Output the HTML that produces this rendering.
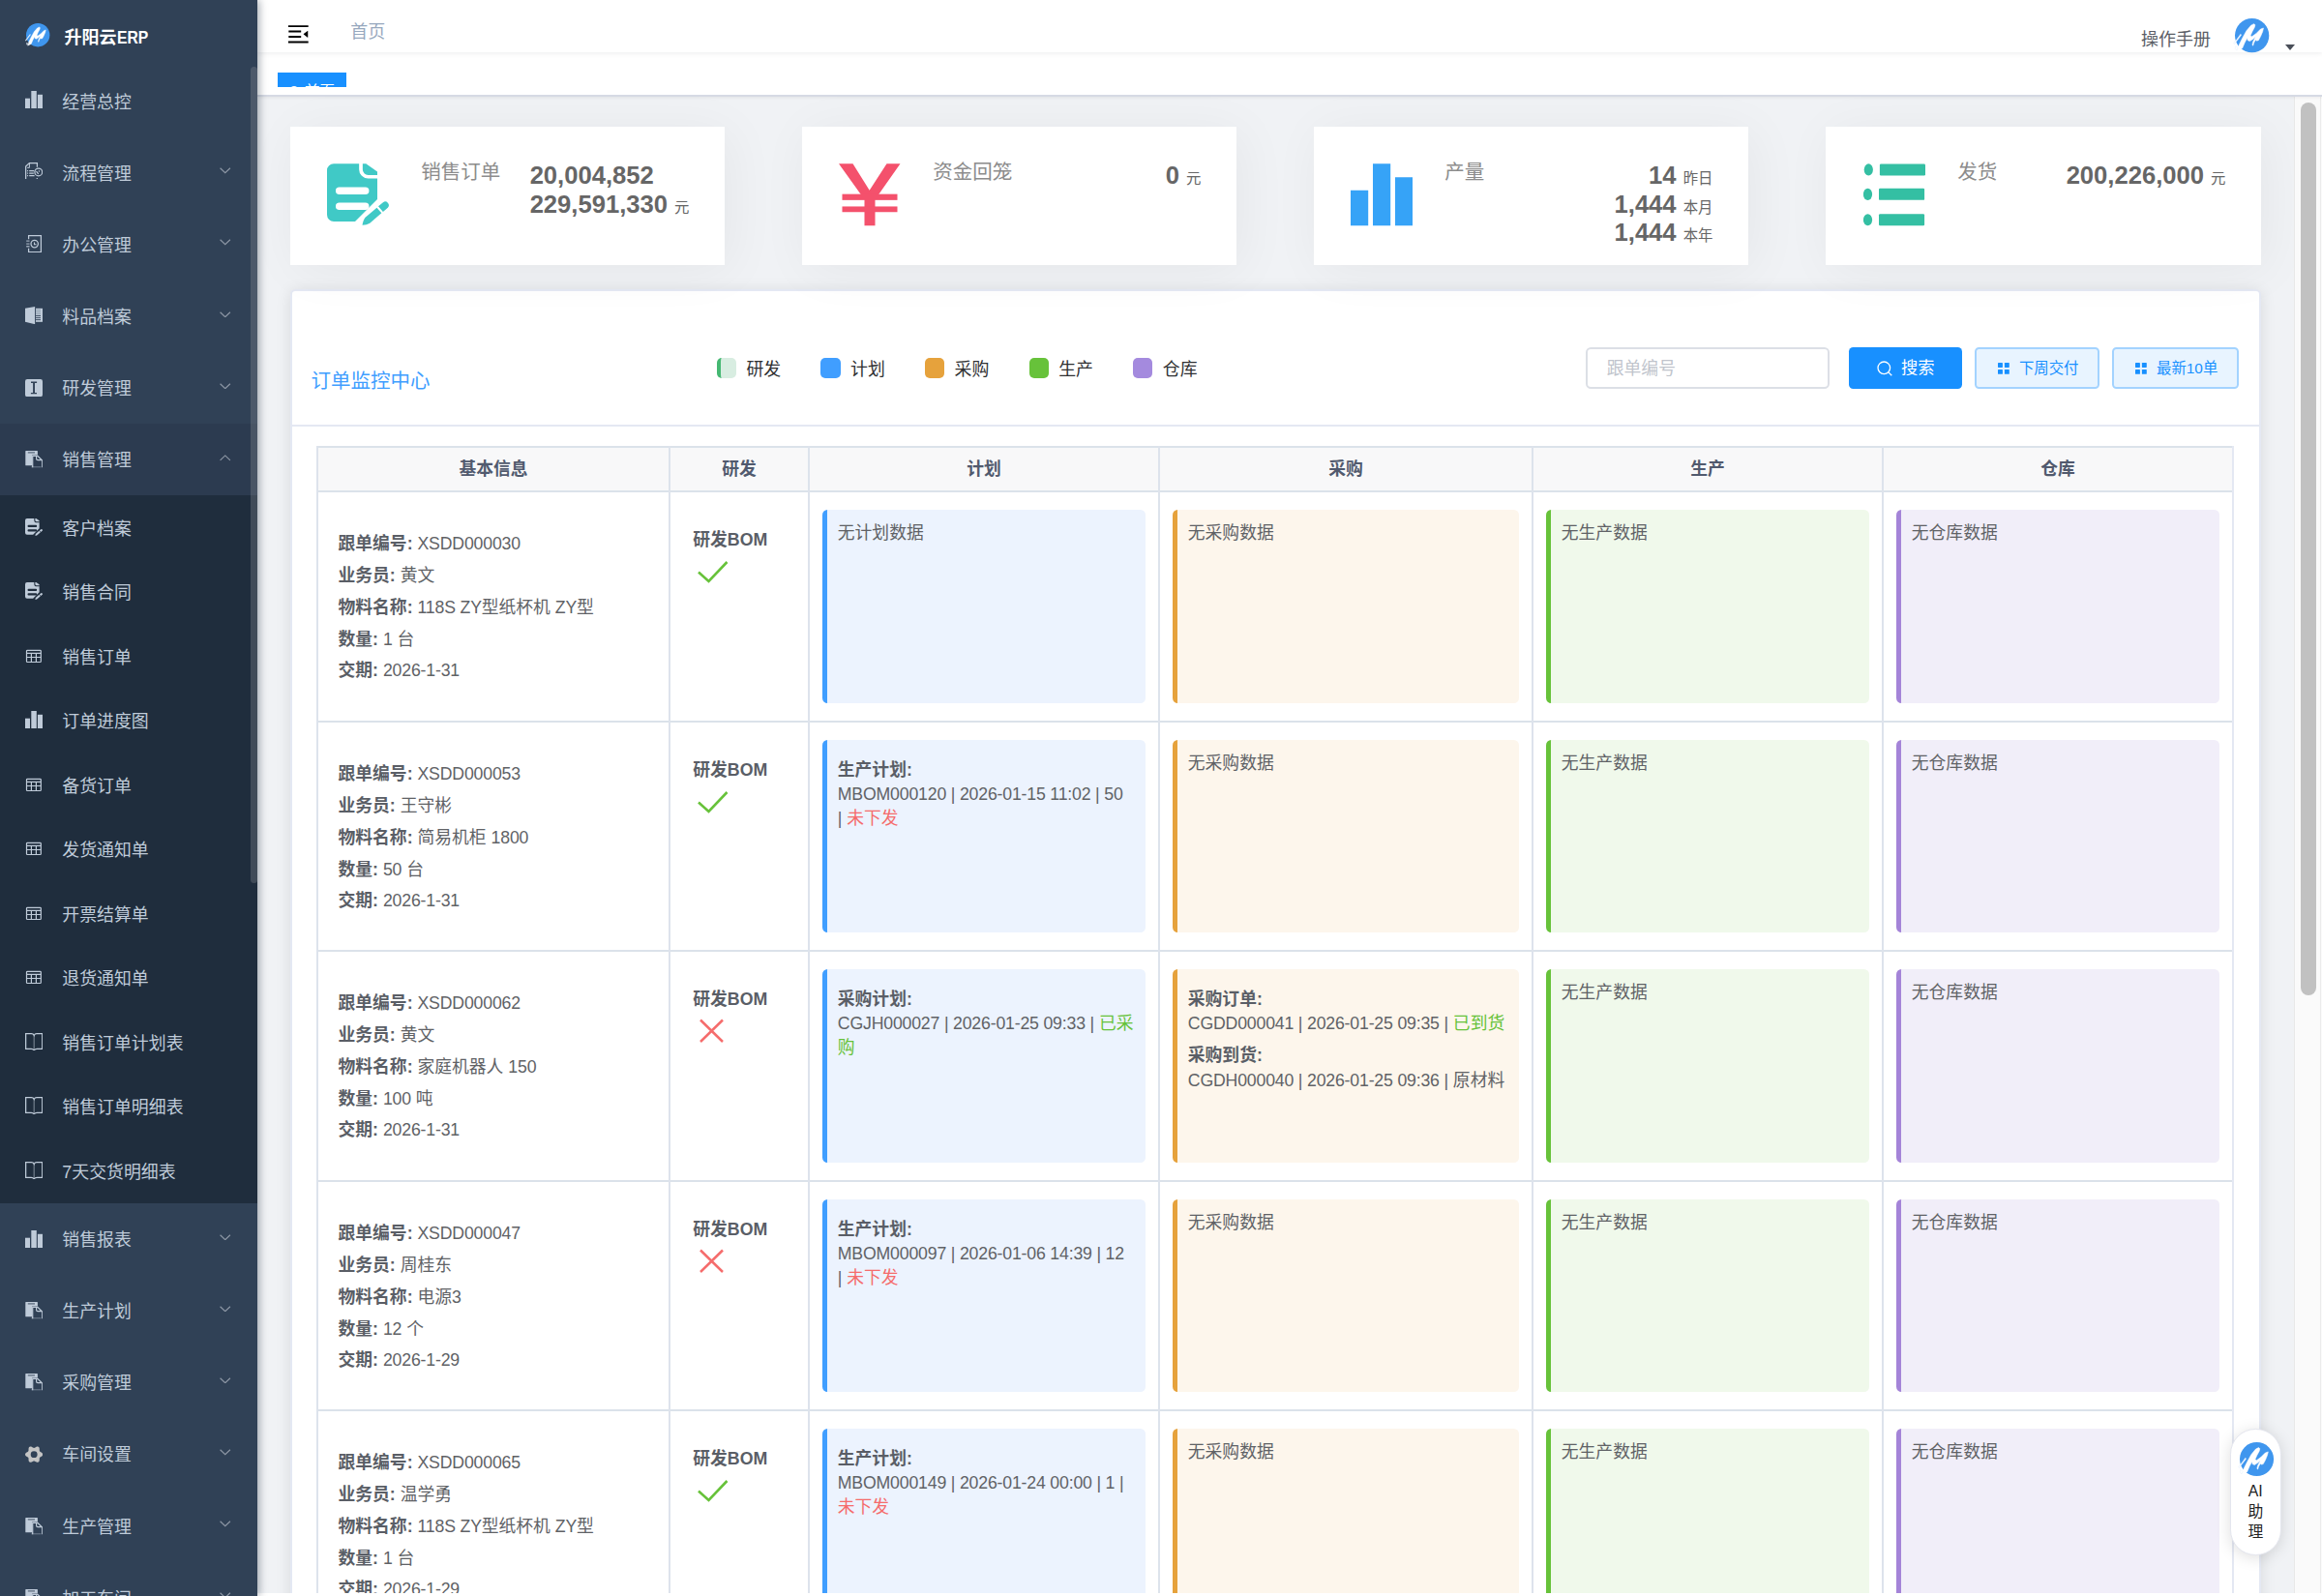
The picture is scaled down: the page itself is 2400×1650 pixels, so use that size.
<!DOCTYPE html>
<html lang="zh-CN">
<head>
<meta charset="utf-8">
<title>升阳云ERP</title>
<style>
*{box-sizing:border-box;margin:0;padding:0}
html,body{width:2400px;height:1650px;overflow:hidden;background:#fff}
body{font-family:"Liberation Sans","Noto Sans CJK SC",sans-serif;position:relative;color:#606266;font-size:18px}
b{font-weight:bold}
i{font-style:normal}
/* sidebar */
.sidebar{position:absolute;left:0;top:0;width:266px;height:1650px;background:#304156;overflow:hidden;z-index:30;box-shadow:2px 0 8px rgba(0,21,41,.35)}
.sidebar{overflow:visible}
.subbg{position:absolute;left:0;width:266px;background:#1f2d3d}
.actbg{position:absolute;left:0;width:266px;background:#2c3b50}
.logo{position:absolute;left:0;top:0;width:266px;height:67px}
.lg{position:absolute;left:26.900px;top:24.100px;width:24.400px;height:24.400px}
.lt{position:absolute;left:66.5px;top:24.800px;line-height:27px;font-size:18px;font-weight:bold;color:#fff;white-space:nowrap}
.erp{display:inline-block;font-size:18.500px;transform:scaleX(.85);transform-origin:0 50%;margin-left:0.500px}
.mi{position:absolute;left:0;width:266px;height:74.15px;line-height:74.15px;font-size:17.900px;color:#bfcbd9;white-space:nowrap;overflow:hidden}
.mi.sub{height:66.5px;line-height:66.5px}
.mi .ic{position:absolute;left:26px;top:26.900px;width:18px;height:18px}
.mi.sub .ic{top:23.800px}
.mi span{position:absolute;left:64.3px;top:1.500px}
.mi .ar{position:absolute;left:227px;top:32px;width:11.500px;height:6.700px}
.sthumb{position:absolute;left:259px;top:69px;width:7px;height:844px;border-radius:3.500px;background:rgba(144,147,153,.3)}
/* navbar */
.navbar{position:absolute;left:266px;top:0;width:2134px;height:54px;background:#fff;box-shadow:0 1.300px 5.300px rgba(0,21,41,.08);z-index:20}
.hamb{position:absolute;left:29.400px;top:21.700px;width:26.600px;height:26.600px;fill:#000}
.crumb{position:absolute;left:96.300px;top:20.400px;line-height:26px;font-size:18px;color:#97a8be}
.manual{position:absolute;left:1947px;top:27.500px;line-height:26px;font-size:18px;color:#5a5e66}
.av{position:absolute;left:2044px;top:19px;width:35.300px;height:35.300px}
.caret{position:absolute;left:2095.600px;top:46px;width:0;height:0;border-left:5px solid transparent;border-right:5px solid transparent;border-top:6.500px solid #4a4f59}
/* tags */
.tags{position:absolute;left:266px;top:54px;width:2134px;height:46px;background:#fff;border-bottom:2px solid #d6dae4;box-shadow:0 1.300px 4px rgba(0,0,0,.05),0 0 4px rgba(0,0,0,.03);z-index:10}
.tag{position:absolute;left:21px;top:21px;width:71px;height:14.800px;background:#1890ff;overflow:hidden;color:#fff;font-size:15.400px}
.tag .dot{position:absolute;left:12px;top:14px;width:10px;height:10px;border-radius:50%;background:#fff}
.tag span{position:absolute;left:28px;top:9.700px;line-height:20px}
/* content */
.content{position:absolute;left:266px;top:99px;width:2134px;height:1551px;background:#f0f2f5}
.card{position:absolute;top:131px;width:449px;height:143px;background:#fff;box-shadow:5.300px 5.300px 53px rgba(0,0,0,.05);z-index:2}
.cic{position:absolute;left:38px;top:38px;width:64px;height:64.500px}
.clab{position:absolute;left:135.300px;top:33px;line-height:28px;font-size:20.500px;color:#8c8c8c;white-space:nowrap}
.cnum{position:absolute;right:36.500px;top:35.800px;text-align:right;font-size:25.600px;font-weight:bold;color:#666;line-height:29.800px;white-space:nowrap}
.cnum.la{text-align:left}
.cnum i{font-size:15.400px;font-weight:normal;line-height:0}
/* panel */
.panel{position:absolute;left:300px;top:299px;width:2037px;height:1400px;background:#fff;border:2px solid #e4e8f3;border-radius:5.300px;box-shadow:0 2.670px 16px rgba(0,0,0,.1);z-index:1}
.pc{position:absolute;left:0;top:0;width:2400px;height:1650px;z-index:2}
.ptitle{position:absolute;left:321.500px;top:380.300px;line-height:28px;font-size:20.500px;color:#409eff;white-space:nowrap}
.sw{position:absolute;top:370px;width:20.300px;height:21px;border-radius:5px}
.l0{background:#d8ede1;border-left:4.600px solid #45b872}
.l1{background:#409eff}.l2{background:#e6a23c}.l3{background:#67c23a}.l4{background:#a48ade}
.lgt{position:absolute;top:368.600px;line-height:26px;font-size:17.900px;color:#303133;white-space:nowrap}
.inp{position:absolute;left:1639px;top:359.300px;width:252px;height:42.500px;border:2px solid #dcdfe6;border-radius:5.300px;padding-left:19.800px;line-height:40.500px;font-size:17.800px;color:#c0c4cc}
.btn{position:absolute;top:359.300px;height:42.500px;border-radius:4.500px;white-space:nowrap}
.b1{left:1911px;width:117px;background:#1890ff;color:#fff;font-size:17.300px}
.b1 .sic{position:absolute;left:29px;top:13.700px;width:16px;height:16px}
.b1 span{position:absolute;left:54px;top:1px;line-height:41px}
.b2,.b3{background:#e8f4ff;border:2px solid #a3d3ff;color:#1890ff;font-size:15.400px}
.b2{left:2041.300px;width:128.400px}
.b3{left:2183.400px;width:130.300px}
.gic{position:absolute;left:21.800px;top:13.800px;width:11.800px;height:11.800px}
.btn.b2 span,.btn.b3 span{position:absolute;left:43.600px;top:-1px;line-height:41px}
.phl{position:absolute;left:302px;top:439px;width:2033px;height:2px;background:#e4e8f3}
/* table */
.tbl{position:absolute;left:0;top:0;width:2400px;height:1650px;z-index:3;overflow:hidden}
.l{font-size:17.700px;line-height:0;letter-spacing:-0.180px}
.thbg{position:absolute;background:#f8f8f9}
.th{position:absolute;top:472.200px;line-height:27px;font-size:17.800px;font-weight:bold;color:#515a6e;text-align:center}
.vl{position:absolute;top:461px;width:2px;height:1200px;background:#dde3ec}
.vl.last{background:#e4e8f3}
.hl{position:absolute;left:327px;width:1981px;height:2px;background:#dbe2ea}
.info{position:absolute;left:349.500px;font-size:17.800px;line-height:32.750px;color:#606266;white-space:nowrap}
.info b{color:#5a5e66}
.bom{position:absolute;left:716.300px;line-height:28px;font-size:17.800px;font-weight:bold;color:#5a5e66;white-space:nowrap}
.mk{position:absolute;left:721px;width:32px;height:24px;overflow:visible}
.cc{position:absolute;border-radius:5.300px;border-left:5px solid;padding:0 10.800px;font-size:17.800px;line-height:24.200px;color:#606266;white-space:nowrap;overflow:hidden}
.c1{left:850px;width:334px;background:#ecf3fe;border-color:#409eff}
.c2{left:1212px;width:358px;background:#fdf6ec;border-color:#e6a23c}
.c3{left:1598px;width:334px;background:#f0f9eb;border-color:#67c23a}
.c4{left:1960px;width:334px;background:#f1eef9;border-color:#a484d8}
.nd{margin-top:11.500px}
.bk{margin-top:18.700px}
.bk+.bk{margin-top:8.600px}
.bt{font-weight:bold;color:#5a5e66;margin-bottom:1.500px}
.r{color:#f56c6c;font-weight:normal}
.g{color:#67c23a;font-weight:normal}
/* scrollbar */
.strack{position:absolute;left:2371px;top:99.500px;width:29px;height:1551px;background:#fafafa;border-left:1.300px solid #e8e8e8;z-index:5}
.strack:after{content:"";position:absolute;left:25.700px;top:0;width:1.300px;height:100%;background:#ebebeb}
.sth{position:absolute;left:5.700px;top:6.500px;width:16px;height:923px;border-radius:8px;background:#c1c1c1}
/* AI */
.ai{position:absolute;left:2305.300px;top:1476.800px;width:52.400px;height:131.300px;border-radius:26.200px;background:#fff;border:1.800px solid #e4e6ee;box-shadow:0 2.600px 16px rgba(0,0,0,.13);z-index:8}
.aiav{position:absolute;left:8.950px;top:13.200px;width:35.100px;height:35.100px}
.ait{position:absolute;left:0;top:53px;width:50px;text-align:center;font-size:15.800px;line-height:21.300px;color:#222}
.bstrip{position:absolute;left:266px;top:1646.500px;width:2134px;height:4px;background:#fff;z-index:9}

</style>
</head>
<body>
<div class="content"></div>
<div class="tags"><div class="tag"><i class="dot"></i><span>首页</span></div></div>
<div class="navbar">
  <svg class="hamb" viewBox="0 0 1024 1024"><g transform="rotate(180 512 512)"><path d="M408 442h480c4.400 0 8-3.600 8-8v-56c0-4.400-3.600-8-8-8H408c-4.400 0-8 3.600-8 8v56c0 4.400 3.600 8 8 8zm-8 204c0 4.400 3.600 8 8 8h480c4.400 0 8-3.600 8-8v-56c0-4.400-3.600-8-8-8H408c-4.400 0-8 3.600-8 8v56zm504-486H120c-4.400 0-8 3.600-8 8v56c0 4.400 3.600 8 8 8h784c4.400 0 8-3.600 8-8v-56c0-4.400-3.600-8-8-8zm0 632H120c-4.400 0-8 3.600-8 8v56c0 4.400 3.600 8 8 8h784c4.400 0 8-3.600 8-8v-56c0-4.400-3.600-8-8-8zM142.400 642.100L298.700 519a8.840 8.840 0 0 0 0-13.900L142.400 381.900c-5.800-4.600-14.400-.5-14.400 6.900v246.300a8.900 8.900 0 0 0 14.400 7z"/></g></svg>
  <div class="crumb">首页</div>
  <div class="manual">操作手册</div>
  <svg class="av" viewBox="0 0 100 100" style="overflow:visible"><circle cx="50" cy="50" r="50" fill="#3f96ee"/><path d="M7.0 95.1L11.9 77.9L21.6 58.3L33.8 36.2L47.1 20.2L55.6 16.0L59.3 19.0L57.5 26.4L50.8 38.7L45.3 50.9L49.6 53.4L62.9 43.6L75.1 31.3L83.6 28.2L81.2 38.7L75.1 53.4L69.0 64.4L64.2 65.6L60.5 63.2L55.6 71.8L53.2 79.8L50.8 77.9L53.2 68.1L60.5 53.4L53.2 60.7L43.5 66.9L37.4 64.4L36.2 57.1L28.9 70.6L21.6 87.7L16.8 90.2z" fill="#fff" stroke="#fff" stroke-width="1.500" stroke-linejoin="round"/><path d="M16.800 44.800L-3.900 73l3 2.500L19.500 49z" fill="#fff" fill-opacity=".9" stroke="#4096ee" stroke-opacity=".25" stroke-width="1"/><path d="M2 81l7 5-3.500 8-5-5z" fill="#fff" fill-opacity=".7" stroke="#4096ee" stroke-opacity=".2" stroke-width="1"/></svg>
  <div class="caret"></div>
</div>
<div class="card" style="left:300px"><svg class="cic" viewBox="0 0 64 64"><path d="M7 0h33.300l11.700 8.300v28.500L29 59.700H7a7 7 0 0 1-7-7V7a7 7 0 0 1 7-7z" fill="#40c9c6"/><path d="M35 -1v7a7.500 7.500 0 0 0 7.500 7.500H53" fill="none" stroke="#fff" stroke-width="3.700"/><path d="M12.700 28.100h27M12.700 44h27" stroke="#fff" stroke-width="7.500" stroke-linecap="round"/><path d="M36.500 63.400c0.500-3 1.400-5.400 2.850-7.600L51.450 45.400l4.900 5.600-12.100 10.400c-2.300 1.300-4.700 1.900-7.750 2z" fill="#40c9c6"/><path d="M53 44.100l4.950-4.200a3.750 3.750 0 0 1 4.900 5.600L57.900 49.700z" fill="#40c9c6"/></svg><div class="clab">销售订单</div><div class="cnum la"><div>20,004,852</div><div>229,591,330 <i>元</i></div></div></div>
<div class="card" style="left:829px"><svg class="cic" viewBox="0 0 64 64"><path d="M0 0h14.500L31.700 27.500 49.500 0H63.500L37.500 37v27H26.500V37z" fill="#f4516c"/><rect x="3.500" y="31.400" width="57" height="6.200" fill="#f4516c"/><rect x="3.500" y="44.200" width="57" height="5.800" fill="#f4516c"/></svg><div class="clab">资金回笼</div><div class="cnum"><div>0 <i>元</i></div></div></div>
<div class="card" style="left:1358px"><svg class="cic" viewBox="0 0 64 64"><rect x="0" y="27.500" width="18.200" height="36.500" fill="#36a3f7"/><rect x="23" y="0" width="18.200" height="64" fill="#36a3f7"/><rect x="46" y="14" width="18" height="50" fill="#36a3f7"/></svg><div class="clab">产量</div><div class="cnum"><div>14 <i>昨日</i></div><div>1,444 <i>本月</i></div><div>1,444 <i>本年</i></div></div></div>
<div class="card" style="left:1887px;width:450px;border-left:1px solid #fff"><svg class="cic" viewBox="0 0 64 64" fill="#34bfa3"><ellipse cx="5.300" cy="6.200" rx="4.600" ry="6.100"/><rect x="16.900" y="0.200" width="47.100" height="12" rx="1.200"/><ellipse cx="4.500" cy="31.600" rx="4.600" ry="6.100"/><rect x="16" y="25.600" width="47.100" height="12" rx="1.200"/><ellipse cx="4.500" cy="58" rx="4.600" ry="6.100"/><rect x="16" y="52" width="47.100" height="12" rx="1.200"/></svg><div class="clab">发货</div><div class="cnum"><div>200,226,000 <i>元</i></div></div></div>
<div class="panel"></div>
<div class="pc">
  <div class="ptitle">订单监控中心</div>
  <div class="sw l0" style="left:740.8px"></div><div class="lgt" style="left:771.4px">研发</div>
  <div class="sw l1" style="left:848.4px"></div><div class="lgt" style="left:879.0px">计划</div>
  <div class="sw l2" style="left:956.0px"></div><div class="lgt" style="left:986.6px">采购</div>
  <div class="sw l3" style="left:1063.6px"></div><div class="lgt" style="left:1094.2px">生产</div>
  <div class="sw l4" style="left:1171.2px"></div><div class="lgt" style="left:1201.8px">仓库</div>
  <div class="inp">跟单编号</div>
  <div class="btn b1"><svg class="sic" viewBox="0 0 16 16" fill="none" stroke="#fff" stroke-width="1.300"><circle cx="7.300" cy="7.300" r="6.300"/><path d="M11.900 11.900L15.300 15.300"/></svg><span>搜索</span></div>
  <div class="btn b2"><svg class="gic" viewBox="0 0 12 12" fill="#1890ff"><rect x="0" y="0" width="5" height="5" rx=".6"/><rect x="7" y="0" width="5" height="5" rx=".6"/><rect x="0" y="7" width="5" height="5" rx=".6"/><rect x="7" y="7" width="5" height="5" rx=".6"/></svg><span>下周交付</span></div>
  <div class="btn b3"><svg class="gic" viewBox="0 0 12 12" fill="#1890ff"><rect x="0" y="0" width="5" height="5" rx=".6"/><rect x="7" y="0" width="5" height="5" rx=".6"/><rect x="0" y="7" width="5" height="5" rx=".6"/><rect x="7" y="7" width="5" height="5" rx=".6"/></svg><span>最新10单</span></div>
  <div class="phl"></div>
</div>
<div class="tbl">
<div class="thbg" style="left:328px;top:462px;width:1980px;height:46px"></div>
<div class="th" style="left:328.0px;width:364.0px">基本信息</div>
<div class="th" style="left:692.0px;width:144.0px">研发</div>
<div class="th" style="left:836.0px;width:362.0px">计划</div>
<div class="th" style="left:1198.0px;width:386.0px">采购</div>
<div class="th" style="left:1584.0px;width:362.0px">生产</div>
<div class="th" style="left:1946.0px;width:362.0px">仓库</div>
<div class="hl" style="top:461px"></div>
<div class="hl" style="top:507px"></div>
<div class="hl" style="top:745px"></div>
<div class="hl" style="top:982px"></div>
<div class="hl" style="top:1220px"></div>
<div class="hl" style="top:1457px"></div>
<div class="vl" style="left:327px"></div>
<div class="vl" style="left:691px"></div>
<div class="vl" style="left:835px"></div>
<div class="vl" style="left:1197px"></div>
<div class="vl" style="left:1583px"></div>
<div class="vl" style="left:1945px"></div>
<div class="vl last" style="left:2307px"></div>
<div class="info" style="top:546.4px"><div><b>跟单编号:</b> <span class="l">XSDD000030</span></div><div><b>业务员:</b> 黄文</div><div><b>物料名称:</b> <span class="l">118S ZY</span>型纸杯机 <span class="l">ZY</span>型</div><div><b>数量:</b> <span class="l">1</span> 台</div><div><b>交期:</b> <span class="l">2026-1-31</span></div></div>
<div class="bom" style="top:544.4px">研发BOM</div>
<svg class="mk" style="top:578.5px" viewBox="0 0 32 24" fill="none" stroke="#67c23a" stroke-width="2.600"><path d="M1 12.500L11.500 22 30.500 2"/></svg>
<div class="cc c1" style="top:527px;height:200px"><div class="nd">无计划数据</div></div>
<div class="cc c2" style="top:527px;height:200px"><div class="nd">无采购数据</div></div>
<div class="cc c3" style="top:527px;height:200px"><div class="nd">无生产数据</div></div>
<div class="cc c4" style="top:527px;height:200px"><div class="nd">无仓库数据</div></div>
<div class="info" style="top:784.4px"><div><b>跟单编号:</b> <span class="l">XSDD000053</span></div><div><b>业务员:</b> 王守彬</div><div><b>物料名称:</b> 简易机柜 <span class="l">1800</span></div><div><b>数量:</b> <span class="l">50</span> 台</div><div><b>交期:</b> <span class="l">2026-1-31</span></div></div>
<div class="bom" style="top:782.4px">研发BOM</div>
<svg class="mk" style="top:816.5px" viewBox="0 0 32 24" fill="none" stroke="#67c23a" stroke-width="2.600"><path d="M1 12.500L11.500 22 30.500 2"/></svg>
<div class="cc c1" style="top:765px;height:199px"><div class="bk"><div class="bt">生产计划:</div><div class="bl"><span class="l">MBOM000120 | 2026-01-15 11:02 | 50</span><br><span class="l">|</span> <b class="r">未下发</b></div></div></div>
<div class="cc c2" style="top:765px;height:199px"><div class="nd">无采购数据</div></div>
<div class="cc c3" style="top:765px;height:199px"><div class="nd">无生产数据</div></div>
<div class="cc c4" style="top:765px;height:199px"><div class="nd">无仓库数据</div></div>
<div class="info" style="top:1021.4px"><div><b>跟单编号:</b> <span class="l">XSDD000062</span></div><div><b>业务员:</b> 黄文</div><div><b>物料名称:</b> 家庭机器人 <span class="l">150</span></div><div><b>数量:</b> <span class="l">100</span> 吨</div><div><b>交期:</b> <span class="l">2026-1-31</span></div></div>
<div class="bom" style="top:1019.4px">研发BOM</div>
<svg class="mk" style="top:1053.5px" viewBox="0 0 32 24" fill="none" stroke="#f56c6c" stroke-width="2.500"><path d="M3 0.500L26 23M26 0.500L3 23"/></svg>
<div class="cc c1" style="top:1002px;height:200px"><div class="bk"><div class="bt">采购计划:</div><div class="bl"><span class="l">CGJH000027 | 2026-01-25 09:33 |</span> <b class="g">已采<br>购</b></div></div></div>
<div class="cc c2" style="top:1002px;height:200px"><div class="bk"><div class="bt">采购订单:</div><div class="bl"><span class="l">CGDD000041 | 2026-01-25 09:35 |</span> <b class="g">已到货</b></div></div><div class="bk"><div class="bt">采购到货:</div><div class="bl"><span class="l">CGDH000040 | 2026-01-25 09:36 |</span> 原材料</div></div></div>
<div class="cc c3" style="top:1002px;height:200px"><div class="nd">无生产数据</div></div>
<div class="cc c4" style="top:1002px;height:200px"><div class="nd">无仓库数据</div></div>
<div class="info" style="top:1259.4px"><div><b>跟单编号:</b> <span class="l">XSDD000047</span></div><div><b>业务员:</b> 周桂东</div><div><b>物料名称:</b> 电源<span class="l">3</span></div><div><b>数量:</b> <span class="l">12</span> 个</div><div><b>交期:</b> <span class="l">2026-1-29</span></div></div>
<div class="bom" style="top:1257.4px">研发BOM</div>
<svg class="mk" style="top:1291.5px" viewBox="0 0 32 24" fill="none" stroke="#f56c6c" stroke-width="2.500"><path d="M3 0.500L26 23M26 0.500L3 23"/></svg>
<div class="cc c1" style="top:1240px;height:199px"><div class="bk"><div class="bt">生产计划:</div><div class="bl"><span class="l">MBOM000097 | 2026-01-06 14:39 | 12</span><br><span class="l">|</span> <b class="r">未下发</b></div></div></div>
<div class="cc c2" style="top:1240px;height:199px"><div class="nd">无采购数据</div></div>
<div class="cc c3" style="top:1240px;height:199px"><div class="nd">无生产数据</div></div>
<div class="cc c4" style="top:1240px;height:199px"><div class="nd">无仓库数据</div></div>
<div class="info" style="top:1496.4px"><div><b>跟单编号:</b> <span class="l">XSDD000065</span></div><div><b>业务员:</b> 温学勇</div><div><b>物料名称:</b> <span class="l">118S ZY</span>型纸杯机 <span class="l">ZY</span>型</div><div><b>数量:</b> <span class="l">1</span> 台</div><div><b>交期:</b> <span class="l">2026-1-29</span></div></div>
<div class="bom" style="top:1494.4px">研发BOM</div>
<svg class="mk" style="top:1528.5px" viewBox="0 0 32 24" fill="none" stroke="#67c23a" stroke-width="2.600"><path d="M1 12.500L11.500 22 30.500 2"/></svg>
<div class="cc c1" style="top:1477px;height:200px"><div class="bk"><div class="bt">生产计划:</div><div class="bl"><span class="l">MBOM000149 | 2026-01-24 00:00 | 1 |</span><br><b class="r">未下发</b></div></div></div>
<div class="cc c2" style="top:1477px;height:200px"><div class="nd">无采购数据</div></div>
<div class="cc c3" style="top:1477px;height:200px"><div class="nd">无生产数据</div></div>
<div class="cc c4" style="top:1477px;height:200px"><div class="nd">无仓库数据</div></div>
</div>
<div class="strack"><div class="sth"></div></div>
<div class="ai"><svg class="aiav" viewBox="0 0 100 100" style="overflow:visible"><circle cx="50" cy="50" r="50" fill="#3f96ee"/><path d="M7.0 95.1L11.9 77.9L21.6 58.3L33.8 36.2L47.1 20.2L55.6 16.0L59.3 19.0L57.5 26.4L50.8 38.7L45.3 50.9L49.6 53.4L62.9 43.6L75.1 31.3L83.6 28.2L81.2 38.7L75.1 53.4L69.0 64.4L64.2 65.6L60.5 63.2L55.6 71.8L53.2 79.8L50.8 77.9L53.2 68.1L60.5 53.4L53.2 60.7L43.5 66.9L37.4 64.4L36.2 57.1L28.9 70.6L21.6 87.7L16.8 90.2z" fill="#fff" stroke="#fff" stroke-width="1.500" stroke-linejoin="round"/><path d="M16.800 44.800L-3.900 73l3 2.500L19.500 49z" fill="#fff" fill-opacity=".9" stroke="#4096ee" stroke-opacity=".25" stroke-width="1"/><path d="M2 81l7 5-3.500 8-5-5z" fill="#fff" fill-opacity=".7" stroke="#4096ee" stroke-opacity=".2" stroke-width="1"/></svg><div class="ait">AI<br>助<br>理</div></div>
<div class="bstrip"></div>

<div class="sidebar">
  <div class="subbg" style="top:512.00px;height:731.50px"></div>
  <div class="actbg" style="top:437.85px;height:74.15px"></div>
  <div class="logo"><svg class="lg" viewBox="0 0 100 100" style="overflow:visible"><circle cx="50" cy="50" r="50" fill="#3f96ee"/><path d="M7.0 95.1L11.9 77.9L21.6 58.3L33.8 36.2L47.1 20.2L55.6 16.0L59.3 19.0L57.5 26.4L50.8 38.7L45.3 50.9L49.6 53.4L62.9 43.6L75.1 31.3L83.6 28.2L81.2 38.7L75.1 53.4L69.0 64.4L64.2 65.6L60.5 63.2L55.6 71.8L53.2 79.8L50.8 77.9L53.2 68.1L60.5 53.4L53.2 60.7L43.5 66.9L37.4 64.4L36.2 57.1L28.9 70.6L21.6 87.7L16.8 90.2z" fill="#fff" stroke="#fff" stroke-width="1.500" stroke-linejoin="round"/><path d="M16.800 44.800L-3.900 73l3 2.500L19.500 49z" fill="#fff" fill-opacity=".9" stroke="#4096ee" stroke-opacity=".25" stroke-width="1"/><path d="M2 81l7 5-3.500 8-5-5z" fill="#fff" fill-opacity=".7" stroke="#4096ee" stroke-opacity=".2" stroke-width="1"/></svg><span class="lt">升阳云<span class="erp">ERP</span></span></div>
  <div class="mi" style="top:67.10px"><svg class="ic" style="top:26.90px" viewBox="0 0 18 18" fill="#bfcbd9"><rect x="0" y="7.7" width="5" height="10.4"/><rect x="6.3" y="0" width="5.5" height="18.1"/><rect x="12.9" y="3.8" width="5.1" height="14.3"/></svg><span>经营总控</span></div>
  <div class="mi" style="top:141.25px"><svg class="ic" style="top:27.13px" viewBox="0 0 18 18" fill="none" stroke="#bfcbd9" stroke-width="1.25"><path d="M0.65 17.1V4.1L4.4 0.65h8v4"/><path d="M4.4 0.65v4.7H2.2" stroke-width="1"/><path d="M4.2 8.6h5M4.2 11h4.6M4.2 13.6h5.4"/><path d="M2.1 8.6h1M2.1 11h1M2.1 13.6h1"/><circle cx="13.8" cy="9.9" r="3.9"/><path d="M11.5 9.2l2.2 2.7M14.3 8.4l0.3 1.3M12.3 16.1v0.8"/></svg><span>流程管理</span><svg class="ar" viewBox="0 0 12 7" fill="none" stroke="#8e98a6" stroke-width="1.2"><path d="M0.6 0.8L6 6l5.4-5.2"/></svg></div>
  <div class="mi" style="top:215.40px"><svg class="ic" style="top:27.36px" viewBox="0 0 18 18" fill="none" stroke="#bfcbd9" stroke-width="1.25"><path d="M3.6 4.2V0.65h12.8v17H3.6v-4"/><circle cx="9.7" cy="9.1" r="3.7"/><path d="M9.5 7.5v2.2h2" stroke-width="1.1"/><path d="M1.2 6.1h3.3M1.2 9.1h3.3M1.2 11.7h3.3" stroke-opacity=".75" stroke-width="1.4"/></svg><span>办公管理</span><svg class="ar" viewBox="0 0 12 7" fill="none" stroke="#8e98a6" stroke-width="1.2"><path d="M0.6 0.8L6 6l5.4-5.2"/></svg></div>
  <div class="mi" style="top:289.55px"><svg class="ic" style="top:27.59px" viewBox="0 0 18 18"><path d="M0 1.800L10.1 0v18.200L0 15.800z" fill="#bfcbd9"/><path d="M11 1.800h7v14h-7z" fill="#bfcbd9"/><path d="M11 9.500h5M11 11.600h5M11 13.600h5" stroke="#304156" stroke-width="0.9"/><path d="M11 3.600h5M11 5.600h5M11 7.600h5" stroke="#304156" stroke-width="0.8" stroke-opacity=".4"/></svg><span>料品档案</span><svg class="ar" viewBox="0 0 12 7" fill="none" stroke="#8e98a6" stroke-width="1.2"><path d="M0.6 0.8L6 6l5.4-5.2"/></svg></div>
  <div class="mi" style="top:363.70px"><svg class="ic" style="top:27.82px" viewBox="0 0 18 18"><rect x="0" y="0" width="18" height="18.100" rx="2.200" fill="#bfcbd9"/><path d="M6 2.400h6.100v1.500h-2.100v10.100h2v1.200H5.900v-1.200h2.200V3.900H6z" fill="#304156"/></svg><span>研发管理</span><svg class="ar" viewBox="0 0 12 7" fill="none" stroke="#8e98a6" stroke-width="1.2"><path d="M0.6 0.8L6 6l5.4-5.2"/></svg></div>
  <div class="mi act" style="top:437.85px"><svg class="ic" style="top:28.05px" viewBox="0 0 18 18"><path d="M0.800 0h11.600a0.500 0.500 0 0 1 0.500 0.500v4.100H7.100v10.600H0.800a0.500 0.500 0 0 1-0.500-0.500V0.500a0.500 0.500 0 0 1 0.500-0.500z" fill="#bfcbd9"/><path d="M2.800 1.900h7.200" stroke="#304156" stroke-width="1.100" stroke-opacity=".8"/><path d="M7.700 17.200V5.300h5.200l4.900 4.900v7" fill="none" stroke="#bfcbd9" stroke-width="1.250"/><path d="M11.600 5.400v2.900c0 0.900 0.500 1.300 1.400 1.300h3.800" fill="none" stroke="#bfcbd9" stroke-width="1.200"/><path d="M6.400 16.800h10" stroke="#bfcbd9" stroke-width="0.900" stroke-opacity=".5"/></svg><span>销售管理</span><svg class="ar" viewBox="0 0 12 7" fill="none" stroke="#8e98a6" stroke-width="1.2"><path d="M0.6 6.2L6 1l5.4 5.2"/></svg></div>
  <div class="mi sub" style="top:512.00px"><svg class="ic" viewBox="0 0 64 64"><path d="M7 0h33.300l11.700 8.300v28.500L29 59.700H7a7 7 0 0 1-7-7V7a7 7 0 0 1 7-7z" fill="#bfcbd9"/><path d="M35 -1v7a7.500 7.500 0 0 0 7.500 7.500H53" fill="none" stroke="#1f2d3d" stroke-width="3.700"/><path d="M12.700 28.100h27M12.700 44h27" stroke="#1f2d3d" stroke-width="7.500" stroke-linecap="round"/><path d="M36.500 63.400c0.500-3 1.400-5.400 2.850-7.600L51.450 45.400l4.900 5.600-12.100 10.400c-2.300 1.300-4.700 1.900-7.750 2z" fill="#bfcbd9"/><path d="M53 44.100l4.950-4.200a3.750 3.750 0 0 1 4.900 5.600L57.900 49.700z" fill="#bfcbd9"/></svg><span>客户档案</span></div>
  <div class="mi sub" style="top:578.50px"><svg class="ic" viewBox="0 0 64 64"><path d="M7 0h33.300l11.700 8.300v28.500L29 59.700H7a7 7 0 0 1-7-7V7a7 7 0 0 1 7-7z" fill="#bfcbd9"/><path d="M35 -1v7a7.500 7.500 0 0 0 7.500 7.500H53" fill="none" stroke="#1f2d3d" stroke-width="3.700"/><path d="M12.700 28.100h27M12.700 44h27" stroke="#1f2d3d" stroke-width="7.500" stroke-linecap="round"/><path d="M36.500 63.400c0.500-3 1.400-5.400 2.850-7.600L51.450 45.400l4.900 5.600-12.100 10.400c-2.300 1.300-4.700 1.900-7.750 2z" fill="#bfcbd9"/><path d="M53 44.100l4.950-4.200a3.750 3.750 0 0 1 4.900 5.600L57.900 49.700z" fill="#bfcbd9"/></svg><span>销售合同</span></div>
  <div class="mi sub" style="top:645.00px"><svg class="ic" viewBox="0 0 18 18" fill="none" stroke="#bfcbd9" stroke-width="1.200"><rect x="1.500" y="3.300" width="14.800" height="12.200" rx="0.800"/><path d="M1.500 6.300h14.800M1.500 10.500h14.800M6.400 6.300v9.200M11.400 6.300v9.200"/></svg><span>销售订单</span></div>
  <div class="mi sub" style="top:711.50px"><svg class="ic" viewBox="0 0 18 18" fill="#bfcbd9"><rect x="0" y="7.7" width="5" height="10.4"/><rect x="6.3" y="0" width="5.5" height="18.1"/><rect x="12.9" y="3.8" width="5.1" height="14.3"/></svg><span>订单进度图</span></div>
  <div class="mi sub" style="top:778.00px"><svg class="ic" viewBox="0 0 18 18" fill="none" stroke="#bfcbd9" stroke-width="1.200"><rect x="1.500" y="3.300" width="14.800" height="12.200" rx="0.800"/><path d="M1.500 6.300h14.800M1.500 10.500h14.800M6.400 6.300v9.200M11.400 6.300v9.200"/></svg><span>备货订单</span></div>
  <div class="mi sub" style="top:844.50px"><svg class="ic" viewBox="0 0 18 18" fill="none" stroke="#bfcbd9" stroke-width="1.200"><rect x="1.500" y="3.300" width="14.800" height="12.200" rx="0.800"/><path d="M1.500 6.300h14.800M1.500 10.500h14.800M6.400 6.300v9.200M11.400 6.300v9.200"/></svg><span>发货通知单</span></div>
  <div class="mi sub" style="top:911.00px"><svg class="ic" viewBox="0 0 18 18" fill="none" stroke="#bfcbd9" stroke-width="1.200"><rect x="1.500" y="3.300" width="14.800" height="12.200" rx="0.800"/><path d="M1.500 6.300h14.800M1.500 10.500h14.800M6.400 6.300v9.200M11.400 6.300v9.200"/></svg><span>开票结算单</span></div>
  <div class="mi sub" style="top:977.50px"><svg class="ic" viewBox="0 0 18 18" fill="none" stroke="#bfcbd9" stroke-width="1.200"><rect x="1.500" y="3.300" width="14.800" height="12.200" rx="0.800"/><path d="M1.500 6.300h14.800M1.500 10.500h14.800M6.400 6.300v9.200M11.400 6.300v9.200"/></svg><span>退货通知单</span></div>
  <div class="mi sub" style="top:1044.00px"><svg class="ic" viewBox="0 0 18 18" fill="none" stroke="#bfcbd9" stroke-width="1.250"><path d="M0.650 0.650h5.800c1.500 0 2.300 0.700 2.750 1.800 0.450-1.100 1.250-1.800 2.750-1.800h5.750v15.800h-5.600c-1.400 0-2.300 0.500-2.900 1.400-0.600-0.900-1.500-1.400-2.900-1.400H0.650z"/><path d="M9.200 2.600v15" stroke-opacity=".5"/></svg><span>销售订单计划表</span></div>
  <div class="mi sub" style="top:1110.50px"><svg class="ic" viewBox="0 0 18 18" fill="none" stroke="#bfcbd9" stroke-width="1.250"><path d="M0.650 0.650h5.800c1.500 0 2.300 0.700 2.750 1.800 0.450-1.100 1.250-1.800 2.750-1.800h5.750v15.800h-5.600c-1.400 0-2.300 0.500-2.900 1.400-0.600-0.900-1.500-1.400-2.900-1.400H0.650z"/><path d="M9.200 2.600v15" stroke-opacity=".5"/></svg><span>销售订单明细表</span></div>
  <div class="mi sub" style="top:1177.00px"><svg class="ic" viewBox="0 0 18 18" fill="none" stroke="#bfcbd9" stroke-width="1.250"><path d="M0.650 0.650h5.800c1.500 0 2.300 0.700 2.750 1.800 0.450-1.100 1.250-1.800 2.750-1.800h5.750v15.800h-5.600c-1.400 0-2.300 0.500-2.900 1.400-0.600-0.900-1.500-1.400-2.900-1.400H0.650z"/><path d="M9.200 2.600v15" stroke-opacity=".5"/></svg><span>7天交货明细表</span></div>
  <div class="mi" style="top:1243.50px"><svg class="ic" style="top:28.40px" viewBox="0 0 18 18" fill="#bfcbd9"><rect x="0" y="7.7" width="5" height="10.4"/><rect x="6.3" y="0" width="5.5" height="18.1"/><rect x="12.9" y="3.8" width="5.1" height="14.3"/></svg><span>销售报表</span><svg class="ar" viewBox="0 0 12 7" fill="none" stroke="#8e98a6" stroke-width="1.2"><path d="M0.6 0.8L6 6l5.4-5.2"/></svg></div>
  <div class="mi" style="top:1317.65px"><svg class="ic" style="top:28.55px" viewBox="0 0 18 18"><path d="M0.800 0h11.600a0.500 0.500 0 0 1 0.500 0.500v4.100H7.100v10.600H0.800a0.500 0.500 0 0 1-0.500-0.500V0.500a0.500 0.500 0 0 1 0.500-0.500z" fill="#bfcbd9"/><path d="M2.800 1.900h7.200" stroke="#304156" stroke-width="1.100" stroke-opacity=".8"/><path d="M7.700 17.200V5.300h5.200l4.900 4.900v7" fill="none" stroke="#bfcbd9" stroke-width="1.250"/><path d="M11.600 5.400v2.900c0 0.900 0.500 1.300 1.400 1.300h3.800" fill="none" stroke="#bfcbd9" stroke-width="1.200"/><path d="M6.400 16.800h10" stroke="#bfcbd9" stroke-width="0.900" stroke-opacity=".5"/></svg><span>生产计划</span><svg class="ar" viewBox="0 0 12 7" fill="none" stroke="#8e98a6" stroke-width="1.2"><path d="M0.6 0.8L6 6l5.4-5.2"/></svg></div>
  <div class="mi" style="top:1391.80px"><svg class="ic" style="top:28.70px" viewBox="0 0 18 18"><path d="M0.800 0h11.600a0.500 0.500 0 0 1 0.500 0.500v4.100H7.100v10.600H0.800a0.500 0.500 0 0 1-0.500-0.500V0.500a0.500 0.500 0 0 1 0.500-0.500z" fill="#bfcbd9"/><path d="M2.800 1.900h7.200" stroke="#304156" stroke-width="1.100" stroke-opacity=".8"/><path d="M7.700 17.200V5.300h5.200l4.900 4.900v7" fill="none" stroke="#bfcbd9" stroke-width="1.250"/><path d="M11.600 5.400v2.900c0 0.900 0.500 1.300 1.400 1.300h3.800" fill="none" stroke="#bfcbd9" stroke-width="1.200"/><path d="M6.400 16.800h10" stroke="#bfcbd9" stroke-width="0.900" stroke-opacity=".5"/></svg><span>采购管理</span><svg class="ar" viewBox="0 0 12 7" fill="none" stroke="#8e98a6" stroke-width="1.2"><path d="M0.6 0.8L6 6l5.4-5.2"/></svg></div>
  <div class="mi" style="top:1465.95px"><svg class="ic" style="top:28.85px" viewBox="0 0 18 18"><path d="M18.30 8.65L18.11 9.43L17.57 10.13L16.83 10.71L16.06 11.16L15.41 11.57L15.00 12.03L14.81 12.61L14.78 13.37L14.77 14.27L14.65 15.20L14.31 16.01L13.73 16.57L12.95 16.80L12.07 16.68L11.21 16.33L10.43 15.89L9.75 15.53L9.15 15.40L8.55 15.53L7.87 15.89L7.09 16.33L6.23 16.68L5.35 16.80L4.58 16.57L3.99 16.01L3.65 15.20L3.53 14.27L3.52 13.37L3.49 12.61L3.30 12.03L2.89 11.57L2.24 11.16L1.47 10.71L0.73 10.13L0.19 9.43L0.00 8.65L0.19 7.87L0.73 7.17L1.47 6.59L2.24 6.14L2.89 5.73L3.30 5.27L3.49 4.69L3.52 3.93L3.53 3.03L3.65 2.10L3.99 1.29L4.57 0.73L5.35 0.50L6.23 0.62L7.09 0.97L7.87 1.41L8.55 1.77L9.15 1.90L9.75 1.77L10.43 1.41L11.21 0.97L12.07 0.62L12.95 0.50L13.73 0.73L14.31 1.29L14.65 2.10L14.77 3.03L14.78 3.93L14.81 4.69L15.00 5.27L15.41 5.73L16.06 6.14L16.83 6.59L17.57 7.17L18.11 7.87z" fill="#c4c4c4"/><circle cx="9.150" cy="8.650" r="3.450" fill="#304156"/></svg><span>车间设置</span><svg class="ar" viewBox="0 0 12 7" fill="none" stroke="#8e98a6" stroke-width="1.2"><path d="M0.6 0.8L6 6l5.4-5.2"/></svg></div>
  <div class="mi" style="top:1540.10px"><svg class="ic" style="top:29.00px" viewBox="0 0 18 18"><path d="M0.800 0h11.600a0.500 0.500 0 0 1 0.500 0.500v4.100H7.100v10.600H0.800a0.500 0.500 0 0 1-0.500-0.500V0.500a0.500 0.500 0 0 1 0.500-0.500z" fill="#bfcbd9"/><path d="M2.800 1.900h7.200" stroke="#304156" stroke-width="1.100" stroke-opacity=".8"/><path d="M7.700 17.200V5.300h5.200l4.900 4.900v7" fill="none" stroke="#bfcbd9" stroke-width="1.250"/><path d="M11.600 5.400v2.900c0 0.900 0.500 1.300 1.400 1.300h3.800" fill="none" stroke="#bfcbd9" stroke-width="1.200"/><path d="M6.400 16.800h10" stroke="#bfcbd9" stroke-width="0.900" stroke-opacity=".5"/></svg><span>生产管理</span><svg class="ar" viewBox="0 0 12 7" fill="none" stroke="#8e98a6" stroke-width="1.2"><path d="M0.6 0.8L6 6l5.4-5.2"/></svg></div>
  <div class="mi" style="top:1614.25px"><svg class="ic" style="top:29.15px" viewBox="0 0 18 18"><path d="M0.800 0h11.600a0.500 0.500 0 0 1 0.500 0.500v4.100H7.100v10.600H0.800a0.500 0.500 0 0 1-0.500-0.500V0.500a0.500 0.500 0 0 1 0.500-0.500z" fill="#bfcbd9"/><path d="M2.800 1.900h7.200" stroke="#304156" stroke-width="1.100" stroke-opacity=".8"/><path d="M7.700 17.200V5.300h5.200l4.900 4.900v7" fill="none" stroke="#bfcbd9" stroke-width="1.250"/><path d="M11.600 5.400v2.900c0 0.900 0.500 1.300 1.400 1.300h3.800" fill="none" stroke="#bfcbd9" stroke-width="1.200"/><path d="M6.400 16.800h10" stroke="#bfcbd9" stroke-width="0.900" stroke-opacity=".5"/></svg><span>加工车间</span><svg class="ar" viewBox="0 0 12 7" fill="none" stroke="#8e98a6" stroke-width="1.2"><path d="M0.6 0.8L6 6l5.4-5.2"/></svg></div>
  <div class="sthumb"></div>
</div>
</body>
</html>
